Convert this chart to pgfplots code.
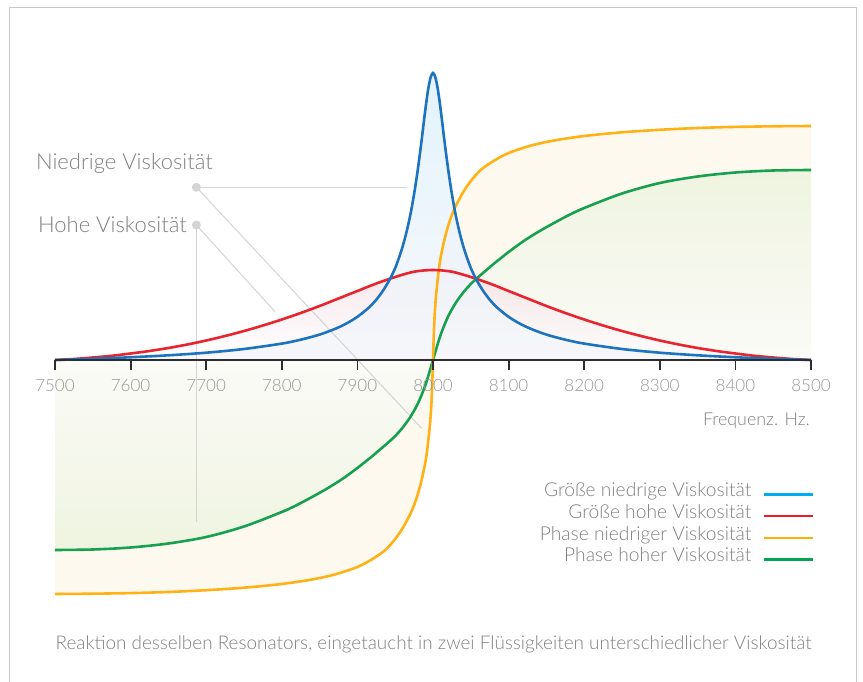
\documentclass[border=0pt]{standalone}
\usepackage{pgfplots}
\pgfplotsset{compat=1.18}
\usepackage{fontspec}
\setmainfont{Lato}[UprightFont={* Light}]
\definecolor{cblue}{RGB}{30,115,190}
\definecolor{cred}{RGB}{232,36,46}
\definecolor{corange}{RGB}{255,178,22}
\definecolor{cgreen}{RGB}{22,160,80}
\definecolor{lblue}{RGB}{0,174,239}
\definecolor{lred}{RGB}{237,28,36}
\definecolor{lorange}{RGB}{255,176,0}
\definecolor{lgreen}{RGB}{0,166,81}
\definecolor{axisc}{RGB}{45,45,48}
\definecolor{txt}{RGB}{128,128,128}
\definecolor{tickc}{RGB}{150,150,150}
\definecolor{annot}{RGB}{212,212,212}
\definecolor{framec}{RGB}{200,200,200}
\definecolor{fblue}{RGB}{222,241,252}
\definecolor{fbluelo}{RGB}{246,246,250}
\definecolor{fpink}{RGB}{244,222,228}
\definecolor{fcream}{RGB}{253,249,238}
\definecolor{fgreen}{RGB}{239,244,224}
\definecolor{fgreenmid}{RGB}{251,251,247}

\pgfplotstableread{
x y
7500 0
7550 1.2
7600 2.75
7650 4.7
7700 7.3
7750 11
7800 16.4
7825 20.3
7850 25.4
7870 31
7885 36.3
7900 43.2
7915 52.3
7925 60.3
7934 69.5
7942 79.5
7950 92
7958 109
7964 125
7970 145
7975 166
7980 191
7985 220
7988 239
7991 257
7994 272.5
7997 283
8000 287
8003 283
8006 272.5
8009 257
8012 239
8015 220
8020 191
8025 166
8030 145
8036 125
8042 109
8050 92
8058 79.5
8066 69.5
8075 60.3
8085 52.3
8100 43.2
8115 36.3
8130 31
8150 25.4
8175 20.3
8200 16.4
8250 11
8300 7.3
8350 4.7
8400 2.75
8450 1.2
8500 0
}\blue

\pgfplotstableread{
x y
7500 0
7525 1
7550 2.5
7575 4.2
7600 6.5
7625 9
7650 12
7675 15.5
7700 19.5
7725 24
7750 29
7775 34.5
7800 40.5
7825 47
7850 54
7875 61.5
7900 69
7925 76.5
7950 83
7975 88.3
8000 90
8025 88.3
8050 83
8075 76.5
8100 69
8125 61.5
8150 54
8175 47
8200 40.5
8225 34.5
8250 29
8275 24
8300 19.5
8325 15.5
8350 12
8375 9
8400 6.5
8425 4.2
8450 2.5
8475 1
8500 0
}\red

\pgfplotstableread{
x y
7500 -234
7550 -233.7
7600 -233.1
7650 -232
7700 -230.2
7750 -227.7
7800 -224
7840 -219.5
7870 -214.5
7900 -207
7920 -199
7937 -190
7950 -179
7960 -168
7970 -154
7975 -145
7980 -134
7985 -120
7990 -102
7992.5 -89
7995 -72
7996.5 -60
7998 -42
7999 -24
8000 0
8001 24
8002 42
8003.5 60
8005 72
8007.5 89
8010 102
8015 120
8020 134
8025 145
8030 154
8040 168
8050 179
8063 190
8080 199
8100 207
8130 214.5
8160 219.5
8200 224
8250 227.7
8300 230.2
8350 232
8400 233.1
8450 233.7
8500 234
}\orange

\pgfplotstableread{
x y
7500 -190
7550 -189.5
7600 -187.5
7650 -183.5
7700 -177
7750 -166.5
7800 -152
7820 -145
7840 -137
7860 -128.5
7880 -119
7900 -108
7910 -102
7920 -96
7930 -89.5
7940 -83
7950 -76
7960 -67.5
7970 -57
7980 -43.5
7990 -25
8000 0
8010 25
8020 43.5
8030 57
8040 67.5
8050 76
8060 83
8070 89.5
8080 96
8090 102
8100 108
8120 119
8140 128.5
8160 137
8180 145
8200 152
8250 166.5
8300 177
8350 183.5
8400 187.5
8450 189.5
8500 190
}\green

\begin{document}
\begin{tikzpicture}
\useasboundingbox (0,0) rectangle (863pt,681pt);
% frame
\draw[framec, line width=1pt] (9.5pt,-5pt) -- (9.5pt,673pt) -- (856.5pt,673pt) -- (856.5pt,-5pt);
\begin{axis}[
  at={(55pt,21pt)}, anchor=south west,
  width=756pt, height=600pt, scale only axis,
  xmin=7500, xmax=8500, ymin=-300, ymax=300,
  axis lines=none,
  clip=false,
]
% phase fills
\addplot[draw=none, fill=fcream] table[x=x,y=y]{\orange} \closedcycle;
\addplot[draw=none, top color=fgreen, bottom color=fgreen, middle color=fgreenmid] table[x=x,y=y]{\green} \closedcycle;
% amplitude fills
\addplot[draw=none, top color=fpink, bottom color=white, fill opacity=0.75] table[x=x,y=y]{\red} \closedcycle;
\addplot[draw=none, top color=fblue, bottom color=fbluelo, fill opacity=0.85] table[x=x,y=y]{\blue} \closedcycle;
% annotation lines
\draw[annot, line width=1pt] (axis cs:7687,172.7) -- (axis cs:7965,172.7);
\draw[annot, line width=1pt] (axis cs:7687,172.7) -- (axis cs:7985,-68.3);
\draw[annot, line width=1pt] (axis cs:7687,135) -- (axis cs:7687,-162);
\draw[annot, line width=1pt] (axis cs:7687,135) -- (axis cs:7791,48.3);
% curves
\addplot[cgreen, line width=2.6pt, smooth] table[x=x,y=y]{\green};
\addplot[corange, line width=2.6pt, smooth] table[x=x,y=y]{\orange};
\addplot[cred, line width=2.6pt, smooth] table[x=x,y=y]{\red};
\addplot[cblue, line width=2.6pt, smooth] table[x=x,y=y]{\blue};
\fill[annot] (axis cs:7687,172.7) circle[radius=4.5pt];
\fill[annot] (axis cs:7687,135) circle[radius=4.5pt];
\end{axis}
% frequency axis at y = 0
\begin{axis}[
  at={(55pt,321pt)}, anchor=south west,
  width=756pt, height=10pt, scale only axis,
  xmin=7500, xmax=8500, ymin=0, ymax=1,
  axis x line*=bottom, axis y line=none,
  axis line style={line width=2.7pt, color=axisc},
  xtick={7500,7600,...,8500},
  xtick align=outside,
  major tick length=10pt,
  tick style={line width=1.8pt, color=axisc},
  xticklabel style={font=\fontsize{17}{17}\selectfont, text=tickc,
     /pgf/number format/1000 sep={}, yshift=-6pt},
  /pgf/number format/assume math mode=true,
]
\end{axis}
% labels
\node[anchor=base east, inner sep=0pt, text=txt, font=\fontsize{22}{22}\selectfont] at (213pt,511pt) {Niedrige Viskosität};
\node[anchor=base east, inner sep=0pt, text=txt, font=\fontsize{22}{22}\selectfont] at (187pt,448pt) {Hohe Viskosität};
\node[anchor=base east, inner sep=0pt, text=txt, font=\fontsize{17.8}{18}\selectfont] at (810pt,255pt) {Frequenz. Hz.};
% legend
\begin{scope}[every node/.style={anchor=base east, inner sep=0pt, text=txt, font=\fontsize{19.2}{19}\selectfont}]
\node at (751.5pt,184pt) {Größe niedrige Viskosität};
\node at (751.5pt,162.5pt) {Größe hohe Viskosität};
\node at (751.5pt,140.5pt) {Phase niedriger Viskosität};
\node at (751.5pt,119pt) {Phase hoher Viskosität};
\draw[lblue, line width=2.6pt] (764pt,186.5pt) -- (813pt,186.5pt);
\draw[lred, line width=2.6pt] (764pt,165pt) -- (813pt,165pt);
\draw[lorange, line width=2.6pt] (764pt,143pt) -- (813pt,143pt);
\draw[lgreen, line width=2.6pt] (764pt,121.4pt) -- (813pt,121.4pt);
\end{scope}
\node[anchor=base, inner sep=0pt, text=txt, font=\fontsize{18.9}{19}\selectfont] at (433.5pt,32pt) {Reaktion desselben Resonators, eingetaucht in zwei Flüssigkeiten unterschiedlicher Viskosität};
\end{tikzpicture}
\end{document}
